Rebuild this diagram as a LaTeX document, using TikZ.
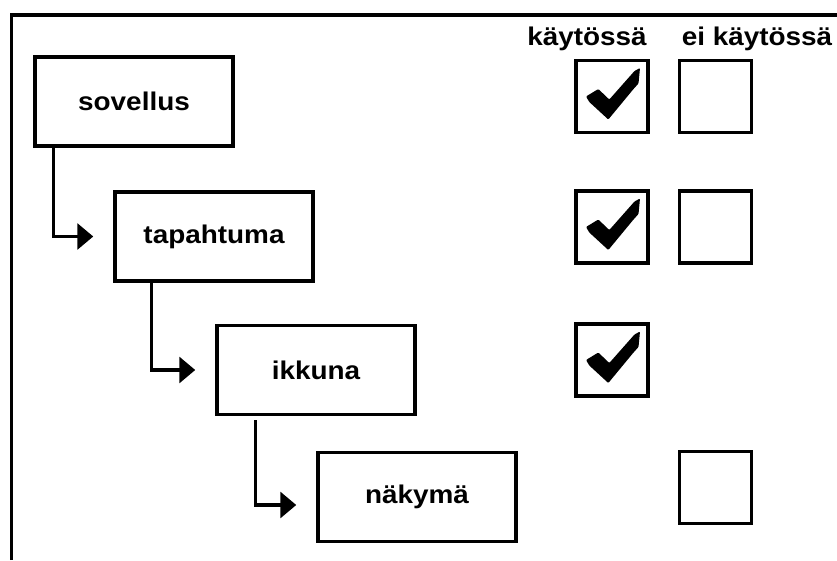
\documentclass[tikz,border=0pt]{standalone}
\usepackage{fontspec}
\usetikzlibrary{arrows.meta,calc}
\newfontfamily\lblfont[FakeStretch=1.09]{Liberation Sans Bold}
\newcommand{\checkmk}[1]{\fill[shift={(#1.center)},rounded corners=1pt] (-26,0) -- (-13.7,-7.5) -- (-2.7,3) -- (22.5,-25.5) -- (28,-28.5) -- (26.5,-13) -- (21.5,-7.5) -- (-3.7,23) -- (-22.7,5.5) -- cycle;}
\begin{document}
\begin{tikzpicture}[x=1pt,y=-1pt,
  level/.style={draw=black,line width=3.5pt,minimum width=198pt,minimum height=89pt,inner sep=0pt,font=\lblfont\fontsize{25.6}{30}\selectfont},
  cbox/.style={draw=black,line width=3.5pt,minimum size=72pt,inner sep=0pt},
  head/.style={anchor=base,inner sep=0pt,font=\lblfont\fontsize{25.6}{30}\selectfont},
  conn/.style={line width=3.2pt,-{Triangle[length=16pt,width=26pt]}}]
\useasboundingbox (0,0) rectangle (837,560);
\draw[line width=3.5pt] (11.5,560) -- (11.5,15) -- (837,15);

\node[level] (sov) at (134,101.5) {sovellus};
\node[level] (tap) at (214,236.5) {tapahtuma};
\node[level] (ikk) at (316,370) {ikkuna};
\node[level] (nak) at (417,497) {näkymä};

\node[head] (h1) at (587,45) {käytössä};
\node[head] (h2) at (757,45) {ei käytössä};

\node[cbox] (k1) at (612,96.5) {};
\node[cbox] (k2) at (612,227) {};
\node[cbox] (k3) at (612,360) {};
\node[cbox] (e1) at (715.5,96.5) {};
\node[cbox] (e2) at (715.5,227) {};
\node[cbox] (e4) at (715.5,487.5) {};

\foreach \k in {k1,k2,k3} {\checkmk{\k}}

\draw[conn] ($(sov.south west)+(20,0)$) |- ($(tap.west)+(-20,0)$);
\draw[conn] ($(tap.south west)+(38,0)$) |- ($(ikk.west)+(-20,0)$);
\draw[conn] ($(ikk.south west)+(40,4)$) |- ($(nak.west)+(-20,8)$);

\end{tikzpicture}
\end{document}
